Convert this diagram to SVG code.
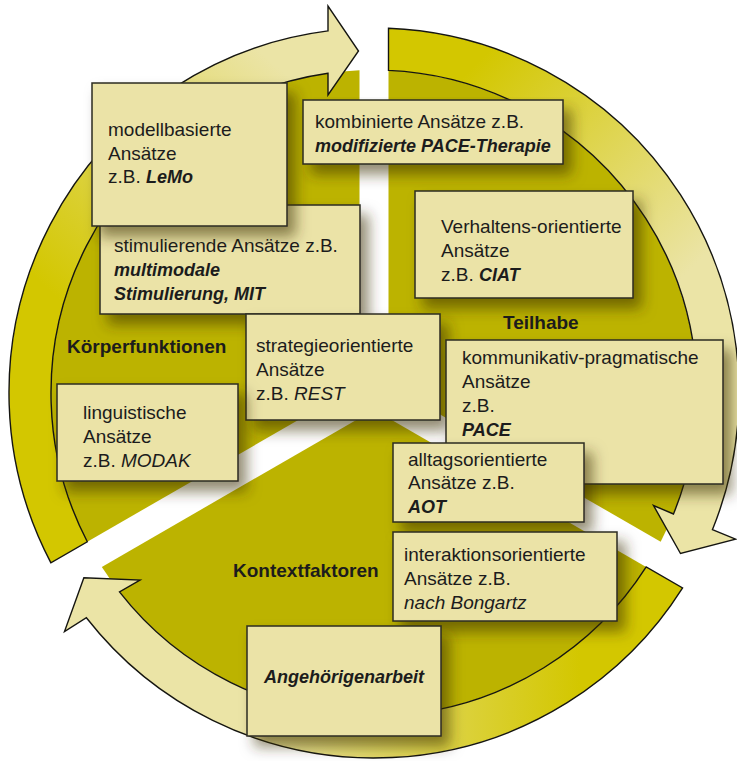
<svg xmlns="http://www.w3.org/2000/svg" width="737" height="761" viewBox="0 0 737 761">
<defs>
<style>
.sector{fill:#bcb300}
.arrow{stroke:#151510;stroke-width:1.4;stroke-linejoin:miter}
.box{fill:#ebe3a7;stroke:#2b2b22;stroke-width:1.5}
.t{font-family:"Liberation Sans",Arial,sans-serif;font-size:19px;fill:#1c1c1c}
.b{font-weight:bold}
.i{font-style:italic}
.bi{font-weight:bold;font-style:italic;font-size:18px}
</style>
<filter id="sh" x="-20%" y="-20%" width="150%" height="160%">
<feGaussianBlur in="SourceAlpha" stdDeviation="7"/>
<feOffset dx="8" dy="10" result="b"/>
<feFlood flood-color="#3a2e00" flood-opacity="0.55"/>
<feComposite in2="b" operator="in"/>
<feMerge><feMergeNode/><feMergeNode in="SourceGraphic"/></feMerge>
</filter>
<linearGradient id="gR" gradientUnits="userSpaceOnUse" x1="480" y1="60" x2="690" y2="270"><stop offset="0" stop-color="#d3c700"/><stop offset="1" stop-color="#ebe4a6"/></linearGradient>
<linearGradient id="gB" gradientUnits="userSpaceOnUse" x1="580" y1="0" x2="250" y2="0"><stop offset="0" stop-color="#d3c700"/><stop offset="1" stop-color="#ebe4a6"/></linearGradient>
<linearGradient id="gL" gradientUnits="userSpaceOnUse" x1="60" y1="300" x2="270" y2="60"><stop offset="0" stop-color="#d3c700"/><stop offset="1" stop-color="#ebe4a6"/></linearGradient>
</defs>
<rect width="737" height="761" fill="#ffffff"/>
<g id="sectors">
<path class="sector" d="M388.5,384.63 L388.5,70.33 A323,323 0 0 1 660.68,541.78 Z"/>
<path class="sector" d="M374,409.74 L646.18,566.9 A323,323 0 0 1 101.82,566.88 Z"/>
<path class="sector" d="M359.5,384.63 L87.31,541.76 A323,323 0 0 1 359.5,70.33 Z"/>
</g>
<g id="connectors">
<path class="arrow" fill="url(#gR)" d="M388.5,28.29 A365,365 0 0 1 712.42,529.73 L735.6,539.1 L680.5,553.5 L653.5,505.5 L673.48,514 A323,323 0 0 0 388.5,70.33 Z"/>
<path class="arrow" fill="url(#gB)" d="M682.6,587.91 A365,365 0 0 1 86.38,617.72 L64.5,631.5 L83.87,577.83 L140,580 L119.47,591.86 A323,323 0 0 0 646.19,566.89 Z"/>
<path class="arrow" fill="url(#gL)" d="M50.9,562.8 A365,365 0 0 1 328,30.9 L328,6 L358.5,51 L328,95 L328,73.3 A323,323 0 0 0 87.31,541.78 Z"/>
</g>
<g id="stimulierend">
<rect class="box" filter="url(#sh)" x="100" y="205" width="260" height="109"/>
<text class="t" x="114" y="252">stimulierende Ansätze z.B.</text>
<text class="t bi" x="114" y="276">multimodale</text>
<text class="t bi" x="114" y="300">Stimulierung, MIT</text>
</g>
<g id="modellbasiert">
<rect class="box" filter="url(#sh)" x="92" y="83" width="195" height="143"/>
<text class="t" x="108" y="136">modellbasierte</text>
<text class="t" x="108" y="160">Ansätze</text>
<text class="t" x="108" y="183">z.B. <tspan class="bi">LeMo</tspan></text>
</g>
<g id="kombiniert">
<rect class="box" filter="url(#sh)" x="303" y="100" width="260" height="64"/>
<text class="t" x="315" y="128">kombinierte Ansätze z.B.</text>
<text class="t bi" x="315" y="152">modifizierte PACE-Therapie</text>
</g>
<g id="verhaltensorientiert">
<rect class="box" filter="url(#sh)" x="415" y="191" width="218" height="107"/>
<text class="t" x="441" y="233">Verhaltens-orientierte</text>
<text class="t" x="441" y="257">Ansätze</text>
<text class="t" x="441" y="281">z.B. <tspan class="bi">CIAT</tspan></text>
</g>
<g id="strategieorientiert">
<rect class="box" filter="url(#sh)" x="246" y="314" width="194" height="106"/>
<text class="t" x="256" y="352">strategieorientierte</text>
<text class="t" x="256" y="376">Ansätze</text>
<text class="t" x="256" y="400">z.B. <tspan class="i">REST</tspan></text>
</g>
<g id="linguistisch">
<rect class="box" filter="url(#sh)" x="57" y="384" width="181" height="97"/>
<text class="t" x="83" y="419">linguistische</text>
<text class="t" x="83" y="443">Ansätze</text>
<text class="t" x="83" y="467">z.B. <tspan class="i">MODAK</tspan></text>
</g>
<g id="kommunikativ">
<rect class="box" filter="url(#sh)" x="446" y="340" width="277" height="144"/>
<text class="t" x="462" y="364">kommunikativ-pragmatische</text>
<text class="t" x="462" y="388">Ansätze</text>
<text class="t" x="462" y="412">z.B.</text>
<text class="t bi" x="462" y="436">PACE</text>
</g>
<g id="alltagsorientiert">
<rect class="box" filter="url(#sh)" x="393" y="443" width="191" height="79"/>
<text class="t" x="408" y="466">alltagsorientierte</text>
<text class="t" x="408" y="489">Ansätze z.B.</text>
<text class="t bi" x="408" y="513">AOT</text>
</g>
<g id="interaktionsorientiert">
<rect class="box" filter="url(#sh)" x="393" y="532" width="224" height="89"/>
<text class="t" x="404" y="561">interaktionsorientierte</text>
<text class="t" x="404" y="585">Ansätze z.B.</text>
<text class="t i" x="404" y="609">nach Bongartz</text>
</g>
<g id="angehoerigenarbeit">
<rect class="box" filter="url(#sh)" x="247" y="626" width="194" height="110"/>
<text class="t bi" x="344" y="683" text-anchor="middle">Angehörigenarbeit</text>
</g>
<g id="labels">
<text class="t b" x="67" y="353">Körperfunktionen</text>
<text class="t b" x="503" y="329">Teilhabe</text>
<text class="t b" x="233" y="577">Kontextfaktoren</text>
</g>
</svg>
